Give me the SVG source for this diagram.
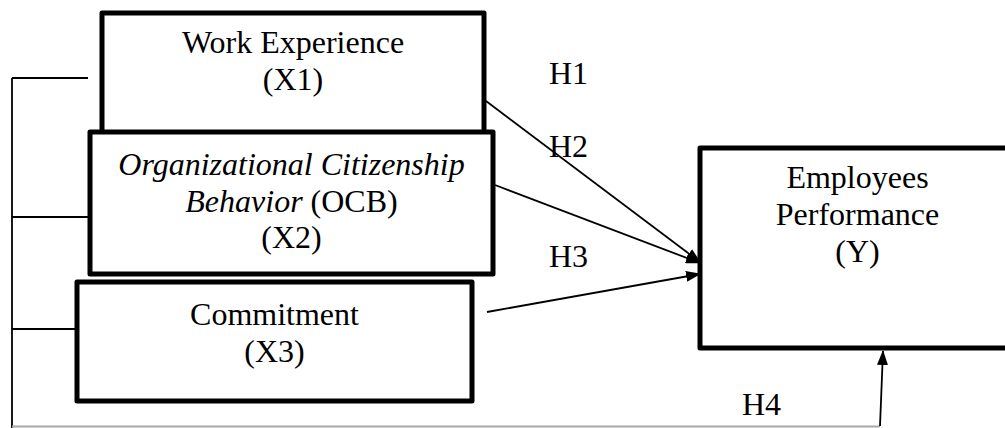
<svg xmlns="http://www.w3.org/2000/svg" width="1005" height="428" viewBox="0 0 1005 428">
<style>
.box{fill:#fff;stroke:#000;stroke-width:5;stroke-linejoin:round}
.t{font-family:"Liberation Serif","Times New Roman",serif;font-size:32px;fill:#000;text-anchor:middle}
.h{font-family:"Liberation Serif","Times New Roman",serif;font-size:32px;fill:#000}
.ln{stroke:#000;stroke-width:1.8;fill:none}
.arr{stroke:#000;stroke-width:1.8;fill:none;marker-end:url(#ah)}
</style>
<defs>
<marker id="ah" viewBox="0 0 15 11" refX="14" refY="5.5" markerWidth="15" markerHeight="11" markerUnits="userSpaceOnUse" orient="auto">
<path d="M0,0 L15,5.5 L0,11 z" fill="#000"/>
</marker>
</defs>
<rect width="1005" height="428" fill="#fff"/>
<g id="connectors">
<path class="ln" d="M12,78 H88 M12,78 V428 M12,217 H88 M12,329 H88"/>
<line x1="12" y1="426.5" x2="880" y2="426.5" stroke="#a8a8a8" stroke-width="2"/>
<line class="arr" x1="486" y1="101" x2="700" y2="262"/>
<line class="arr" x1="495" y1="185" x2="700" y2="263"/>
<line class="arr" x1="487" y1="312" x2="700" y2="274"/>
<line class="arr" x1="880" y1="426" x2="883" y2="351"/>
<text class="h" x="549" y="84">H1</text>
<text class="h" x="549" y="157">H2</text>
<text class="h" x="549" y="267">H3</text>
<text class="h" x="742" y="415">H4</text>
</g>
<g id="x1">
<rect class="box" x="102" y="13" width="382" height="140"/>
<text class="t" x="293" y="53">Work Experience</text>
<text class="t" x="293" y="90">(X1)</text>
</g>
<g id="x2">
<rect class="box" x="90" y="132" width="403" height="142"/>
<text class="t" x="291.5" y="175" font-style="italic">Organizational Citizenship</text>
<text class="t" x="291.5" y="212"><tspan font-style="italic">Behavior</tspan> (OCB)</text>
<text class="t" x="291.5" y="248">(X2)</text>
</g>
<g id="x3">
<rect class="box" x="77" y="282" width="395" height="119"/>
<text class="t" x="274.5" y="325">Commitment</text>
<text class="t" x="274.5" y="362">(X3)</text>
</g>
<g id="y">
<rect class="box" x="700" y="148" width="320" height="200"/>
<text class="t" x="857.5" y="188">Employees</text>
<text class="t" x="857.5" y="225">Performance</text>
<text class="t" x="857.5" y="262">(Y)</text>
</g>
</svg>
